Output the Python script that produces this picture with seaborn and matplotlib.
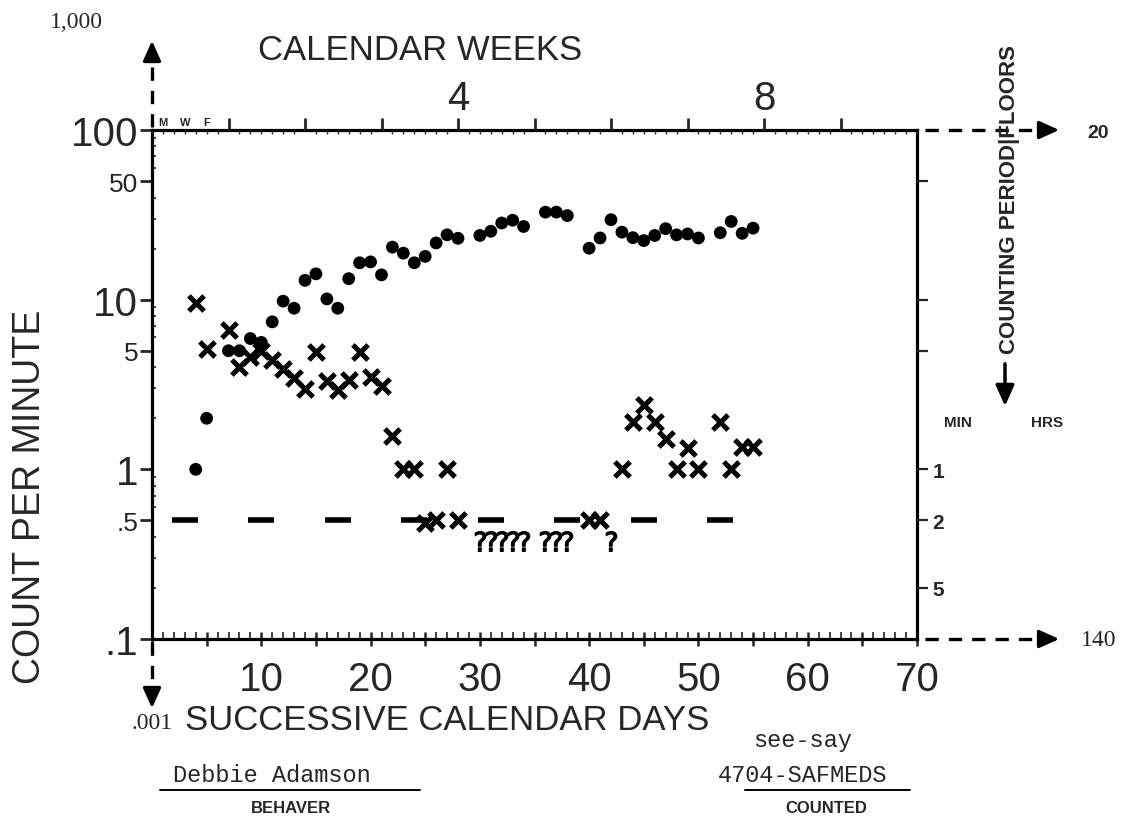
import matplotlib
matplotlib.use("Agg")
import matplotlib.pyplot as plt
import seaborn as sns
import pandas as pd
from matplotlib.lines import Line2D
from matplotlib.ticker import FixedLocator, LogLocator, NullFormatter

# ---------------- data ----------------
correct_days = [4, 5, 7, 8, 9, 10, 11, 12, 13, 14, 15, 16, 17, 18, 19, 20, 21, 22, 23, 24,
                25, 26, 27, 28, 30, 31, 32, 33, 34, 36, 37, 38, 40, 41, 42, 43, 44, 45, 46,
                47, 48, 49, 50, 52, 53, 54, 55]
correct_rate = [1.0, 2.0, 5.0, 5.0, 5.9, 5.6, 7.4, 9.8, 8.9, 13.0, 14.2, 10.1, 8.9, 13.3,
                16.5, 16.7, 14.0, 20.4, 18.8, 16.5, 18.0, 21.6, 24.1, 23.0, 23.9, 25.3, 28.3,
                29.4, 27.0, 32.8, 32.8, 31.3, 20.1, 23.1, 29.6, 25.0, 23.2, 22.3, 23.9, 26.2,
                24.1, 24.4, 23.1, 24.8, 28.9, 24.6, 26.4]

error_days = [4, 5, 7, 8, 9, 10, 11, 12, 13, 14, 15, 16, 17, 18, 19, 20, 21, 22, 23, 24,
              25, 26, 27, 28, 40, 41, 43, 44, 45, 46, 47, 48, 49, 50, 52, 53, 54, 55]
error_rate = [9.5, 5.1, 6.6, 4.0, 4.6, 5.0, 4.4, 3.9, 3.45, 2.97, 4.9, 3.3, 2.93, 3.38,
              4.9, 3.5, 3.1, 1.58, 1.0, 1.0, 0.48, 0.5, 1.0, 0.5, 0.5, 0.5, 1.0, 1.9, 2.4,
              1.9, 1.5, 1.0, 1.33, 1.0, 1.9, 1.0, 1.36, 1.36]

floor_days = [3, 10, 17, 24, 31, 38, 45, 52]
floor_rate = [0.5, 0.5, 0.5, 0.5, 0.5, 0.5, 0.5, 0.5]

zero_days = [30, 31, 32, 33, 34, 36, 37, 38, 42]
zero_rate = [0.38, 0.38, 0.38, 0.38, 0.38, 0.38, 0.38, 0.38, 0.38]

y_ticks = [0.1, 0.5, 1, 5, 10, 50, 100]
y_labels = [".1", ".5", "1", "5", "10", "50", "100"]
x_ticks = [0, 5, 10, 15, 20, 25, 30, 35, 40, 45, 50, 55, 60, 65, 70]
x_labels = ["", "", "10", "", "20", "", "30", "", "40", "", "50", "", "60", "", "70"]
week_ticks = [7, 14, 21, 28, 35, 42, 49, 56, 63]
week_labels = ["", "", "", "4", "", "", "", "8", ""]
period_ticks = [0.2, 0.5, 1, 5, 10, 50]
period_labels = ["5", "2", "1", "", "", ""]

correct_df = pd.DataFrame({"day": correct_days, "rate": correct_rate})
error_df = pd.DataFrame({"day": error_days, "rate": error_rate})
floor_df = pd.DataFrame({"day": floor_days, "rate": floor_rate})
zero_df = pd.DataFrame({"day": zero_days, "rate": zero_rate})

# ---------------- style ----------------
sns.set_style("white")
plt.rcParams["font.family"] = ["Liberation Sans", "DejaVu Sans"]

W, H = 1130, 820
fig = plt.figure(figsize=(11.3, 8.2), dpi=100)


def fx(x):
    return x / W


def fy(y):
    return 1 - y / H


ax = fig.add_axes([fx(152), fy(640), (917 - 152) / W, (640 - 131) / H])
ax.set_yscale("log")

sns.scatterplot(data=correct_df, x="day", y="rate", ax=ax, color="black", marker="o",
                s=85, edgecolor="none", legend=False, zorder=3)
sns.scatterplot(data=error_df, x="day", y="rate", ax=ax, color="black", marker="x",
                s=120, linewidth=3.6, legend=False, zorder=3)
sns.scatterplot(data=floor_df, x="day", y="rate", ax=ax, color="black", marker="_",
                s=330, linewidth=4.0, legend=False, zorder=2)
sns.scatterplot(data=zero_df, x="day", y="rate", ax=ax, color="black", marker="$?$",
                s=200, linewidth=1.0, edgecolor="black", legend=False, zorder=3)

ax.set_xlim(0, 70)
ax.set_ylim(0.1, 100)
ax.set_xlabel("")
ax.set_ylabel("")

for sp in ax.spines.values():
    sp.set_linewidth(2.3)
    sp.set_color("black")

# left axis ticks
ax.yaxis.set_major_locator(FixedLocator(y_ticks))
ax.set_yticklabels(y_labels)
ax.yaxis.set_minor_locator(LogLocator(base=10, subs=[2, 3, 4, 6, 7, 8, 9]))
ax.yaxis.set_minor_formatter(NullFormatter())
ax.tick_params(axis="y", which="major", direction="out", length=9, width=2, pad=1,
               left=True, right=False)
ax.tick_params(axis="y", which="minor", direction="in", length=3, width=1.2, left=True,
               right=False)
for lab in ax.get_yticklabels():
    t = lab.get_text()
    lab.set_fontsize(29 if t in ("100", "10", "1", ".1") else 19)

# bottom axis ticks
ax.xaxis.set_major_locator(FixedLocator(x_ticks))
ax.set_xticklabels(x_labels)
ax.xaxis.set_minor_locator(FixedLocator(list(range(0, 71))))
ax.tick_params(axis="x", which="major", direction="inout", length=10, width=1.8, pad=10,
               labelsize=29, bottom=True, top=False)
ax.tick_params(axis="x", which="minor", direction="in", length=5, width=1.2, bottom=True,
               top=False)

# right axis: counting period
ax2 = ax.twinx()
ax2.set_yscale("log")
ax2.set_ylim(0.1, 100)
ax2.yaxis.set_major_locator(FixedLocator(period_ticks))
ax2.set_yticklabels(period_labels)
ax2.yaxis.set_minor_locator(FixedLocator([]))
ax2.tick_params(axis="y", which="major", direction="out", length=8, width=1.6, pad=3,
                labelsize=15)
for lab in ax2.get_yticklabels():
    lab.set_fontweight("bold")
for sp in ax2.spines.values():
    sp.set_visible(False)

# top axis: calendar weeks
ax3 = ax.twiny()
ax3.set_xlim(0, 70)
ax3.xaxis.set_major_locator(FixedLocator(week_ticks))
ax3.set_xticklabels(week_labels)
ax3.xaxis.set_minor_locator(FixedLocator(list(range(0, 71))))
ax3.tick_params(axis="x", which="major", direction="out", length=9, width=2, pad=0,
                labelsize=29)
ax3.tick_params(axis="x", which="minor", direction="in", length=3, width=1.0)
for sp in ax3.spines.values():
    sp.set_visible(False)

for d, lab in zip([1, 3, 5], ["M", "W", "F"]):
    ax.text(d, 1.006, lab, transform=ax.get_xaxis_transform(), ha="center", va="bottom",
            fontsize=8, fontweight="bold")

# ---------------- outer annotations ----------------
def dashed(x0, y0, x1, y1):
    fig.add_artist(Line2D([fx(x0), fx(x1)], [fy(y0), fy(y1)], color="black", lw=2.4,
                          ls=(0, (4, 3)), transform=fig.transFigure))


def head(x0, y0, x1, y1):
    ax.annotate("", xy=(fx(x1), fy(y1)), xytext=(fx(x0), fy(y0)),
                xycoords="figure fraction", textcoords="figure fraction",
                arrowprops=dict(arrowstyle="-|>,head_length=1.0,head_width=0.45",
                                color="black", lw=2.4, mutation_scale=12))


dashed(152, 128, 152, 62)
head(152, 62, 152, 39)
dashed(152, 643, 152, 692)
head(152, 690, 152, 712)
dashed(925, 131, 1042, 131)
head(1040, 131, 1062, 131)
dashed(925, 640, 1042, 640)
head(1040, 640, 1062, 640)

serif = ["Liberation Serif", "DejaVu Serif"]
fig.text(fx(76), fy(22), "1,000", ha="center", va="center", fontsize=17, family=serif)
fig.text(fx(152), fy(724), ".001", ha="center", va="center", fontsize=17, family=serif)
fig.text(fx(1098), fy(133), "20", ha="center", va="center", fontsize=14, fontweight="bold")
fig.text(fx(1099), fy(640), "140", ha="center", va="center", fontsize=17, family=serif)

fig.text(fx(420), fy(50), "CALENDAR WEEKS", ha="center", va="center", fontsize=25)
fig.text(fx(447), fy(721), "SUCCESSIVE CALENDAR DAYS", ha="center", va="center",
         fontsize=25)
fig.text(fx(30), fy(497), "COUNT PER MINUTE", ha="center", va="center", fontsize=27,
         rotation=90)

fig.text(fx(1010), fy(200), "COUNTING PERIOD|FLOORS", ha="center", va="center",
         fontsize=16, fontweight="bold", rotation=90)
ax.annotate("", xy=(fx(1005), fy(410)), xytext=(fx(1005), fy(362)),
            xycoords="figure fraction", textcoords="figure fraction",
            arrowprops=dict(arrowstyle="-|>,head_length=0.9,head_width=0.4",
                            color="black", lw=2.5, mutation_scale=14))
fig.text(fx(958), fy(423), "MIN", ha="center", va="center", fontsize=11, fontweight="bold")
fig.text(fx(1047), fy(423), "HRS", ha="center", va="center", fontsize=11, fontweight="bold")

mono = ["Liberation Mono", "DejaVu Sans Mono"]
fig.text(fx(272), fy(776), "Debbie Adamson", ha="center", va="center", fontsize=17,
         family=mono)
fig.text(fx(803), fy(741), "see-say", ha="center", va="center", fontsize=17, family=mono)
fig.text(fx(803), fy(776), "4704-SAFMEDS", ha="center", va="center", fontsize=17,
         family=mono)
fig.add_artist(Line2D([fx(160), fx(420)], [fy(791), fy(791)], color="black", lw=1.4,
                      transform=fig.transFigure))
fig.add_artist(Line2D([fx(745), fx(910)], [fy(791), fy(791)], color="black", lw=1.4,
                      transform=fig.transFigure))
fig.text(fx(291), fy(809), "BEHAVER", ha="center", va="center", fontsize=12,
         fontweight="bold")
fig.text(fx(826), fy(809), "COUNTED", ha="center", va="center", fontsize=12,
         fontweight="bold")

fig.savefig("out.png", dpi=100, facecolor="white")
